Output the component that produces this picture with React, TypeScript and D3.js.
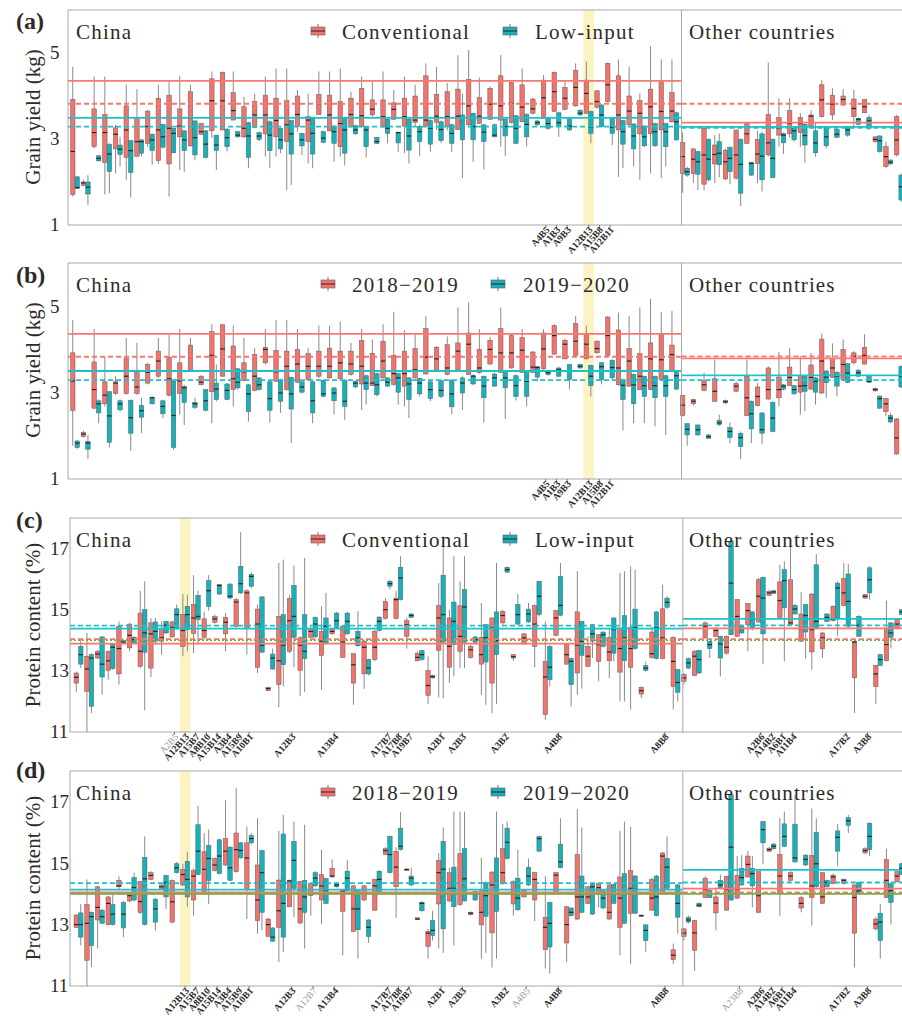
import React from "react";
import * as d3 from "d3";

// one box = [lower whisker, q1, median, q3, upper whisker]
type Box = [number, number, number, number, number];

const N_GENOTYPES = 78;
const N_CHINA = 57;
const genotypeIndex = d3.range(N_GENOTYPES);

const legendTreatment = ["Conventional", "Low-input"];
const legendSeason = ["2018\u22122019", "2019\u22122020"];
const regionNames = ["China", "Other countries"];
const yieldTicks = [1, 3, 5];
const proteinTicks = [11, 13, 15, 17];

// (a) grain yield by treatment
const aConventional: Box[] = [
  [1.66,1.71,2.71,3.92,4.68],[1.9,1.92,1.98,2.0,2.05],[2.78,2.82,3.15,3.7,4.45],[1.71,2.45,3.15,3.57,4.45],[2.2,2.77,3.11,3.26,3.33],
  [2.05,2.57,3.21,3.77,4.26],[2.59,2.6,2.94,3.47,4.16],[2.82,2.9,3.29,3.65,3.67],[2.42,2.5,3.21,3.95,4.26],[1.66,2.42,3.25,4.02,4.33],
  [2.28,3.05,3.3,3.7,4.47],[2.82,2.84,3.48,4.1,4.26],[3.09,3.11,3.17,3.36,3.38],[3.02,3.19,3.89,4.4,4.57],[3.2,3.21,3.89,4.55,4.57],
  [3.44,3.44,3.66,4.08,4.57],[3.02,3.05,3.25,3.75,3.98],[3.25,3.27,3.56,3.87,4.05],[2.59,3.12,3.56,4.02,4.45],[2.59,3.05,3.43,3.95,4.64],
  [1.81,2.94,3.33,3.89,4.64],[3.17,3.29,3.57,4.0,4.14],[2.43,2.94,3.44,3.52,4.06],[3.56,3.57,3.81,4.04,4.57],[3.17,3.19,3.56,4.02,4.57],
  [2.59,2.82,3.36,3.87,4.64],[3.25,3.29,3.57,3.95,4.1],[3.25,3.29,3.54,4.18,4.45],[3.52,3.56,3.69,3.91,4.33],[3.25,3.3,3.52,3.91,4.57],
  [3.44,3.46,3.69,3.84,4.14],[2.67,3.3,3.52,3.95,4.45],[3.29,3.38,3.44,4.0,4.26],[3.25,3.3,3.44,4.47,4.76],[3.21,3.39,3.53,4.04,4.68],
  [3.2,3.29,3.52,4.1,4.3],[3.21,3.22,3.53,4.16,4.95],[3.3,3.33,3.77,4.39,5.07],[3.35,3.36,3.53,3.96,4.43],[3.44,3.46,3.81,4.18,4.23],
  [2.82,3.44,3.77,4.47,4.95],[3.36,3.38,3.83,4.31,4.33],[3.39,3.4,3.74,4.26,4.64],[3.57,3.6,3.7,3.93,3.95],[3.47,3.48,3.96,4.37,4.49],
  [3.62,3.64,4.1,4.55,4.57],[3.67,3.69,3.95,4.2,4.33],[3.75,3.77,4.2,4.6,4.76],[3.58,3.6,4.06,4.37,4.8],[3.71,3.74,3.87,4.12,4.14],
  [3.85,3.87,4.26,4.76,4.78],[2.12,3.21,3.56,4.47,4.85],[3.3,3.33,3.65,4.0,4.68],[2.05,3.12,3.6,3.89,4.06],[2.2,3.12,3.75,4.16,5.16],
  [2.09,3.21,3.64,4.33,4.85],[3.38,3.4,3.65,4.08,4.85],
  [1.75,2.2,2.59,2.92,3.15],[1.98,2.2,2.53,2.77,2.78],[1.8,1.95,2.63,3.25,3.29],[1.98,2.42,2.64,2.86,3.09],[2.05,2.07,2.47,2.74,2.78],
  [2.05,2.09,2.63,3.21,3.22],[2.88,2.9,3.12,3.38,3.4],[1.97,2.43,2.65,2.99,3.19],[2.59,2.63,2.91,3.57,4.78],[2.82,3.09,3.25,3.5,3.95],
  [3.02,3.12,3.36,3.66,3.95],[2.82,3.15,3.36,3.5,3.6],[3.29,3.3,3.53,3.56,3.67],[3.5,3.52,3.91,4.26,4.37],[3.44,3.56,3.81,4.02,4.18],
  [3.77,3.79,3.92,4.0,4.16],[3.29,3.52,3.71,3.93,4.14],[3.6,3.61,3.75,3.92,3.92],[2.91,2.94,2.99,3.05,3.07],[2.32,2.36,2.59,2.82,2.94],
  [2.59,2.63,2.98,3.52,3.56],
];
const aLowInput: Box[] = [
  [1.84,1.85,1.87,2.12,2.14],[1.47,1.72,1.88,2.0,2.16],[2.48,2.49,2.55,2.61,2.63],[1.74,2.24,2.65,2.88,2.9],[2.36,2.64,2.76,2.86,3.05],
  [1.64,2.22,2.73,2.96,2.98],[2.59,2.67,2.94,2.98,3.0],[2.4,2.73,2.98,3.11,3.13],[2.78,2.81,3.05,3.34,3.36],[2.67,2.68,3.13,3.25,3.25],
  [2.24,2.73,2.98,3.19,3.21],[2.51,2.63,3.03,3.42,3.44],[2.55,2.57,2.88,3.19,3.21],[2.28,2.73,2.86,3.09,3.09],[2.71,2.82,3.03,3.23,3.25],
  [3.03,3.05,3.09,3.17,3.19],[2.32,2.57,3.07,3.38,3.4],[2.95,2.99,3.07,3.15,3.17],[2.32,2.73,3.09,3.4,3.43],[2.67,2.77,2.98,3.25,3.27],
  [1.93,2.65,3.12,3.43,3.44],[2.63,2.84,2.98,3.13,3.15],[2.32,2.65,3.13,3.48,3.52],[2.9,2.92,3.02,3.17,3.19],[2.47,2.9,3.17,3.3,3.33],
  [2.38,2.67,3.21,3.48,3.5],[3.1,3.12,3.21,3.31,3.33],[2.57,2.82,3.21,3.29,3.3],[2.88,2.9,2.94,3.04,3.05],[2.9,3.13,3.25,3.46,3.48],
  [2.7,2.91,3.15,3.15,3.17],[2.43,2.74,3.07,3.46,3.48],[2.61,2.94,3.17,3.29,3.33],[2.7,2.88,3.25,3.43,3.48],[2.9,2.96,3.22,3.4,3.43],
  [2.7,2.9,3.13,3.33,3.36],[2.09,2.98,3.29,3.56,4.05],[2.47,2.98,3.29,3.6,3.61],[2.29,2.94,3.16,3.33,3.35],[3.04,3.05,3.09,3.33,3.36],
  [2.6,3.07,3.29,3.46,3.48],[2.88,2.9,3.25,3.54,3.56],[2.82,3.05,3.34,3.57,3.6],[3.3,3.33,3.38,3.42,3.45],[3.22,3.25,3.36,3.48,3.52],
  [3.05,3.29,3.38,3.61,3.64],[3.19,3.21,3.3,3.5,3.52],[3.54,3.56,3.6,3.67,3.69],[2.9,3.13,3.27,3.64,3.66],[3.27,3.29,3.56,3.79,3.81],
  [2.86,3.13,3.27,3.48,3.5],[2.32,2.88,3.17,3.43,3.44],[2.36,2.77,3.07,3.35,3.36],[2.82,2.84,3.05,3.3,3.33],[2.82,2.84,3.17,3.36,3.38],
  [2.36,2.82,3.17,3.36,3.38],[2.96,2.98,3.4,3.61,3.64],
  [2.12,2.16,2.24,2.32,2.36],[1.81,2.18,2.47,2.71,2.72],[2.01,2.05,2.53,2.99,3.02],[2.11,2.4,2.67,2.94,3.13],[1.95,2.24,2.55,2.81,2.82],
  [1.44,1.74,2.41,2.99,3.02],[2.14,2.16,2.43,2.46,2.47],[1.78,2.05,2.6,3.12,3.17],[2.09,2.1,2.55,2.99,3.02],[2.65,2.91,3.09,3.13,3.15],
  [2.94,2.98,3.19,3.25,3.29],[2.45,2.86,3.08,3.34,3.36],[2.59,2.68,2.91,3.19,3.36],[2.78,2.84,3.05,3.29,3.3],[3.02,3.04,3.11,3.22,3.29],
  [3.05,3.09,3.21,3.26,3.3],[3.32,3.34,3.46,3.48,3.5],[3.21,3.25,3.42,3.5,3.56],[2.68,2.71,2.96,3.07,3.09],[2.4,2.42,2.46,2.51,2.53],
  [1.54,1.58,1.89,2.16,2.2],
];

// (b) grain yield by season
const bSeason1: Box[] = [
  [1.77,2.59,3.27,3.92,4.68],[1.96,1.98,2.04,2.08,2.12],[2.62,2.64,3.07,3.71,4.47],[2.68,2.74,2.94,3.25,3.84],[2.95,2.98,3.22,3.25,3.38],
  [2.95,2.98,3.38,3.79,4.27],[2.95,2.98,3.13,3.47,4.15],[3.19,3.22,3.47,3.65,3.69],[3.34,3.38,3.73,3.96,4.27],[2.91,2.94,3.32,3.82,4.35],
  [2.49,2.98,3.27,3.69,4.47],[3.5,3.52,3.82,4.1,4.27],[3.17,3.18,3.24,3.38,3.4],[2.29,3.02,3.86,4.41,4.58],[3.36,3.38,4.01,4.57,4.58],
  [2.68,3.07,3.32,4.08,4.55],[3.26,3.28,3.48,3.69,4.27],[3.03,3.05,3.38,3.88,4.03],[3.65,3.69,4.0,4.05,4.47],[3.25,3.26,3.48,3.98,4.68],
  [3.05,3.07,3.61,3.96,4.68],[3.22,3.24,3.66,4.0,4.47],[3.26,3.3,3.61,3.9,4.03],[3.34,3.38,3.61,3.96,4.55],[3.32,3.34,3.61,4.03,4.55],
  [3.3,3.32,3.69,3.96,4.65],[3.39,3.42,3.66,3.96,4.15],[2.6,3.2,3.61,4.21,4.47],[3.15,3.16,3.22,3.91,4.23],[3.32,3.34,3.73,4.19,4.58],
  [3.16,3.19,3.44,3.86,4.87],[2.68,3.15,3.44,3.96,4.44],[3.32,3.34,3.53,4.02,4.38],[3.42,3.43,3.82,4.48,4.77],[3.5,3.52,3.78,4.05,4.08],
  [3.4,3.42,3.57,4.11,4.3],[3.52,3.53,3.96,4.15,4.97],[3.4,3.42,4.12,4.38,5.09],[3.44,3.46,3.57,4.0,4.47],[3.65,3.66,4.0,4.21,4.29],
  [3.46,3.47,3.92,4.48,4.97],[3.55,3.57,3.92,4.32,4.35],[3.46,3.47,3.98,4.27,4.47],[3.46,3.47,3.59,3.94,3.96],[3.53,3.55,4.01,4.38,4.47],
  [3.88,3.89,4.32,4.55,4.58],[3.77,3.78,4.12,4.21,4.25],[3.84,3.86,4.19,4.6,4.77],[3.77,3.78,4.12,4.37,4.55],[3.91,3.92,4.02,4.19,4.21],
  [3.84,3.86,4.32,4.75,4.77],[3.16,3.18,3.57,4.45,4.85],[3.13,3.15,3.73,4.02,4.77],[3.05,3.07,3.38,3.9,4.97],[3.05,3.07,3.78,4.15,5.17],
  [3.28,3.3,3.76,4.34,4.87],[3.47,3.5,3.88,4.1,4.89],
  [2.45,2.47,2.71,2.93,2.95],[2.7,2.74,2.8,2.84,2.86],[3.03,3.05,3.18,3.28,3.46],[2.78,2.8,3.03,3.32,3.77],[2.74,2.76,2.79,2.82,2.84],
  [3.01,3.03,3.15,3.21,3.26],[2.45,2.47,2.88,3.38,3.77],[2.68,2.7,2.91,3.13,3.22],[2.84,2.85,3.07,3.57,3.61],[2.68,2.88,3.07,3.36,3.94],
  [3.15,3.16,3.35,3.59,4.04],[2.49,3.01,3.15,3.39,3.84],[3.07,3.08,3.35,3.64,3.92],[2.97,2.99,3.73,4.24,4.37],[3.34,3.35,3.57,3.79,4.14],
  [3.28,3.3,3.65,4.0,4.23],[3.65,3.69,3.84,3.92,3.96],[3.65,3.66,3.86,4.05,4.35],[3.02,3.04,3.07,3.1,3.12],[2.45,2.56,2.74,2.86,2.88],
  [1.56,1.58,1.95,2.39,2.41],
];
const bSeason2: Box[] = [
  [1.7,1.73,1.83,1.88,1.9],[1.46,1.69,1.83,1.87,2.02],[2.29,2.53,2.74,2.81,2.84],[1.73,1.85,2.46,3.02,3.03],[2.56,2.6,2.74,2.81,2.84],
  [1.65,2.06,2.42,2.82,2.84],[2.06,2.43,2.58,2.7,2.88],[2.72,2.74,2.88,2.89,2.91],[2.41,2.51,2.68,2.81,2.84],[1.67,1.73,2.47,3.28,3.3],
  [2.25,2.77,3.11,3.14,3.18],[2.62,2.66,2.74,2.77,2.88],[2.57,2.59,2.81,3.07,3.08],[2.8,2.84,3.08,3.22,3.65],[2.82,2.84,3.05,3.2,3.22],
  [3.07,3.11,3.24,3.55,3.57],[2.33,2.56,2.97,3.18,3.2],[3.05,3.07,3.18,3.34,3.36],[2.31,2.59,2.86,3.25,3.26],[2.53,2.8,2.99,3.3,3.32],
  [1.83,2.62,2.97,3.35,3.37],[2.98,3.01,3.13,3.25,3.26],[2.29,2.53,2.81,3.25,3.26],[2.9,2.91,2.97,3.28,3.3],[2.49,2.81,2.99,3.11,3.12],
  [2.37,2.68,2.8,3.29,3.3],[3.11,3.13,3.22,3.26,3.28],[2.72,3.07,3.22,3.39,3.42],[2.91,2.95,3.18,3.44,3.46],[3.13,3.15,3.24,3.34,3.36],
  [2.72,3.01,3.34,3.44,3.46],[2.41,2.84,3.2,3.34,3.36],[2.91,2.97,3.22,3.33,3.35],[2.8,2.86,3.07,3.25,3.26],[2.87,2.91,3.05,3.28,3.3],
  [2.5,2.67,2.97,3.29,3.3],[2.6,2.99,3.22,3.34,3.38],[3.17,3.2,3.38,3.39,3.42],[2.31,2.88,3.15,3.38,3.39],[3.13,3.15,3.34,3.43,3.46],
  [2.39,3.11,3.34,3.5,3.52],[2.82,2.91,3.16,3.39,3.42],[2.68,2.91,3.26,3.5,3.52],[3.26,3.36,3.58,3.6,3.61],[3.39,3.42,3.46,3.5,3.52],
  [3.36,3.38,3.53,3.57,3.6],[3.07,3.3,3.5,3.65,3.67],[3.55,3.57,3.61,3.65,3.67],[2.91,3.16,3.38,3.63,3.65],[3.19,3.3,3.6,3.69,3.71],
  [3.3,3.34,3.58,3.75,3.77],[2.12,2.84,3.17,3.3,3.32],[2.29,2.74,3.18,3.42,3.44],[2.29,2.91,3.16,3.38,3.39],[2.22,2.88,3.16,3.38,3.39],
  [2.02,2.91,3.16,3.39,3.42],[3.07,3.08,3.39,3.47,3.5],
  [1.77,2.02,2.15,2.28,2.29],[2.0,2.02,2.14,2.25,2.27],[1.93,1.94,1.98,2.02,2.04],[2.22,2.26,2.3,2.36,2.49],[1.83,1.96,2.1,2.19,2.31],
  [1.46,1.75,1.96,2.06,2.1],[1.83,2.16,2.51,2.8,2.82],[1.81,2.06,2.14,2.53,2.54],[2.08,2.1,2.41,2.77,2.8],[3.05,3.08,3.15,3.18,3.2],
  [2.95,2.97,3.07,3.16,3.18],[2.57,3.03,3.16,3.38,3.39],[2.72,3.01,3.26,3.34,3.36],[2.88,3.23,3.36,3.5,3.52],[2.91,3.15,3.38,3.47,3.5],
  [3.22,3.24,3.45,3.67,3.69],[3.36,3.38,3.46,3.52,3.54],[3.22,3.24,3.26,3.39,3.42],[2.62,2.64,2.86,2.92,2.94],[2.29,2.32,2.41,2.47,2.53],
  [3.1,3.13,3.38,3.61,3.63],
];

// (c) protein content by treatment
const cConventional: Box[] = [
  [12.31,12.6,12.79,12.93,12.98],[11.0,12.33,13.06,13.48,14.24],[13.39,13.42,13.55,13.64,13.69],[12.71,13.02,13.33,13.64,13.67],[12.55,12.9,13.73,14.46,14.62],
  [13.64,13.75,14.16,14.53,14.57],[13.09,13.15,13.64,14.89,15.62],[12.8,13.09,14.21,14.57,14.73],[13.53,13.97,14.08,14.38,14.62],[14.08,14.11,14.42,14.6,14.64],
  [13.48,13.8,14.32,14.84,15.51],[13.58,14.22,14.73,15.17,16.13],[14.02,14.1,14.32,14.7,14.93],[14.54,14.59,14.7,14.78,14.84],[13.64,14.21,14.59,14.75,14.89],
  [14.42,14.46,15.25,15.33,15.38],[13.53,14.38,15.55,15.62,15.66],[12.93,13.12,14.53,15.02,15.17],[12.33,12.35,12.42,12.46,12.48],[11.81,12.55,13.33,14.78,16.53],
  [13.58,13.64,14.64,15.36,15.47],[12.17,13.02,13.84,14.08,14.13],[14.08,14.1,14.29,14.38,14.46],[12.38,13.51,13.97,14.29,15.11],[14.18,14.21,14.29,14.38,14.42],
  [13.42,13.44,13.94,14.46,14.49],[11.89,12.6,13.2,13.56,13.58],[12.41,12.9,13.77,13.97,14.02],[13.31,13.37,13.77,14.29,14.35],[14.68,14.71,15.0,15.27,15.38],
  [14.68,14.71,15.33,15.38,15.62],[13.73,14.13,14.51,14.64,14.73],[13.31,13.33,13.44,13.58,13.64],[11.92,12.2,12.52,13.01,13.48],[12.13,13.67,14.73,15.13,15.87],
  [12.6,13.12,13.8,14.73,15.0],[13.09,13.64,14.13,15.13,15.93],[13.4,13.44,13.69,13.8,13.86],[12.22,13.22,13.53,14.1,15.22],[11.62,12.6,14.4,14.73,14.75],
  [14.51,14.57,14.81,14.95,15.0],[13.33,13.42,13.46,13.53,13.55],[13.86,13.88,14.08,14.21,14.24],[13.12,13.8,14.53,15.13,15.17],[11.4,11.57,12.8,13.31,14.62],
  [14.13,14.16,14.73,14.97,15.0],[13.2,13.22,13.53,13.86,13.88],[12.22,12.93,13.84,14.93,16.26],[13.12,13.15,13.48,13.8,14.13],[12.66,13.31,13.86,14.18,14.21],
  [12.77,13.33,13.62,14.1,14.4],[12.0,12.96,13.73,14.4,16.2],[11.73,13.12,13.73,14.42,16.42],[12.11,12.24,12.35,12.46,12.49],[13.4,13.44,13.56,14.27,14.46],
  [13.37,13.4,14.08,15.03,15.82],[11.73,12.49,13.31,14.1,14.13],
  [12.55,12.66,12.77,12.88,12.93],[12.82,12.85,13.48,13.64,13.69],[14.05,14.08,14.46,14.57,14.62],[14.1,14.13,14.32,14.4,14.42],[13.53,13.58,13.77,14.13,14.16],
  [14.1,14.13,14.78,15.33,15.35],[13.64,14.51,14.97,15.2,15.22],[14.57,14.6,15.44,15.98,16.04],[15.44,15.47,15.55,15.6,15.66],[14.73,14.75,15.3,15.91,16.47],
  [14.49,14.51,14.57,15.98,17.35],[13.94,13.97,14.38,14.86,15.58],[13.04,13.62,14.35,15.51,15.55],[13.42,13.72,14.08,14.24,14.27],[14.62,14.64,14.68,15.11,15.14],
  [15.11,15.14,15.55,16.02,16.53],[11.62,12.77,13.94,13.97,14.02],[15.35,15.38,15.44,15.49,15.51],[11.92,12.49,12.9,13.18,13.2],[13.31,13.33,13.86,14.4,15.3],
  [14.35,14.38,14.53,14.68,14.71],
];
const cLowInput: Box[] = [
  [13.09,13.22,13.53,13.8,14.02],[11.62,11.84,13.42,13.53,13.58],[12.22,12.8,13.22,14.11,14.13],[13.04,13.07,13.77,13.86,13.88],[13.9,13.92,13.94,14.0,14.02],
  [13.88,13.91,14.02,14.1,14.13],[11.71,13.61,14.24,15.0,15.93],[13.86,13.97,14.29,14.6,14.73],[14.21,14.24,14.49,14.62,14.64],[14.37,14.4,14.84,15.03,15.17],
  [13.64,14.35,14.84,15.11,15.49],[13.86,14.68,14.78,15.47,15.62],[14.97,15.11,15.62,15.95,16.13],[15.49,15.51,15.79,15.82,15.84],[15.35,15.38,15.44,15.84,15.87],
  [15.51,15.55,15.85,16.42,17.54],[15.71,15.77,16.09,16.15,16.22],[13.58,13.61,13.84,15.42,15.44],[13.04,13.06,13.42,13.55,13.73],[12.49,13.2,13.84,14.84,16.64],
  [13.12,14.1,14.78,15.79,16.45],[12.31,13.4,13.64,14.84,16.69],[14.08,14.11,14.53,14.75,14.78],[13.88,13.91,14.46,14.73,15.55],[14.4,14.42,14.64,14.89,14.93],
  [14.18,14.21,14.62,14.89,14.93],[13.8,13.82,14.08,14.29,14.95],[12.85,12.9,13.09,13.37,13.4],[14.29,14.32,14.62,14.76,14.78],[15.66,15.77,15.85,15.93,15.98],
  [15.3,15.33,16.04,16.39,16.75],[14.73,14.75,14.81,14.86,14.89],[13.33,13.37,13.53,13.66,13.69],[12.75,12.77,12.81,12.85,12.87],[12.11,13.94,14.84,16.13,17.4],
  [12.82,13.86,14.62,15.25,16.75],[13.09,13.94,15.09,15.66,16.75],[13.91,13.94,14.02,14.11,14.13],[11.89,13.29,14.08,14.51,14.53],[11.92,13.53,13.99,14.93,16.53],
  [16.2,16.23,16.31,16.39,16.42],[14.51,14.53,14.84,15.17,15.51],[14.57,14.6,14.86,15.02,15.22],[14.78,14.84,15.44,15.93,15.95],[12.49,12.71,13.12,13.8,13.84],
  [14.78,14.82,15.14,16.09,16.53],[11.84,12.55,13.31,13.4,13.44],[12.42,13.51,13.97,14.62,14.64],[13.42,13.97,14.21,14.51,14.53],[13.77,13.8,14.18,14.27,14.29],
  [13.31,13.58,14.35,14.73,14.75],[12.0,13.33,14.08,14.81,16.26],[13.69,13.73,14.42,15.02,16.31],[12.98,13.02,13.09,13.17,13.31],[13.37,13.4,14.42,14.93,14.95],
  [15.03,15.08,15.24,15.38,15.44],[12.0,12.3,12.62,13.04,13.07],
  [13.06,13.09,13.26,13.4,13.44],[12.9,12.93,13.37,13.67,13.69],[13.42,13.73,13.86,13.97,13.99],[12.82,13.42,13.88,14.13,14.15],[14.16,14.18,15.87,17.24,17.35],
  [14.21,14.24,14.38,14.46,14.49],[14.32,14.38,14.68,14.93,14.95],[13.22,14.21,15.38,16.06,16.09],[15.51,15.54,15.58,15.62,15.64],[13.31,15.06,15.95,16.31,16.58],
  [14.84,14.86,15.02,15.14,15.19],[13.4,14.27,14.81,15.17,15.19],[14.35,14.38,14.62,16.47,16.82],[14.6,14.62,14.75,14.86,14.89],[14.13,14.73,15.71,15.87,15.93],
  [14.42,14.46,15.27,16.17,16.5],[14.1,14.13,14.49,14.78,14.82],[15.33,15.55,15.98,16.37,16.42],[13.15,13.18,13.37,13.53,13.55],[13.73,14.1,14.24,14.57,14.6],
  [14.82,14.84,14.93,15.0,15.02],
];

// (d) protein content by season
const dSeason1: Box[] = [
  [12.89,12.91,13.0,13.31,13.34],[11.0,11.84,13.04,13.65,14.47],[12.22,13.15,13.56,14.23,14.26],[12.97,13.0,13.69,13.9,13.94],[14.1,14.23,14.26,14.44,14.57],
  [13.72,13.77,13.94,14.01,14.04],[13.34,13.4,13.75,14.4,14.42],[14.44,14.47,14.6,14.69,14.74],[14.12,14.15,14.23,14.29,14.31],[13.04,13.08,13.74,14.44,14.47],
  [14.26,14.29,14.63,14.8,14.98],[13.29,13.8,14.58,14.76,14.83],[14.01,14.04,14.8,15.37,15.98],[14.72,14.76,14.94,15.15,15.19],[14.9,14.94,15.39,15.8,17.05],
  [14.69,14.72,15.44,15.98,17.45],[13.18,14.18,15.17,15.66,16.19],[12.7,13.13,13.8,14.94,16.46],[12.59,12.62,13.0,13.18,13.22],[11.78,12.91,13.45,14.45,16.05],
  [13.56,13.58,14.42,14.44,14.47],[13.02,13.05,13.51,14.4,14.42],[13.29,13.94,14.01,14.33,14.37],[13.02,13.8,14.26,14.63,15.44],[14.53,14.55,14.58,14.83,15.12],
  [12.0,13.43,14.08,14.13,14.15],[12.75,12.78,13.51,14.26,14.29],[13.77,13.8,14.04,14.26,14.29],[13.45,13.47,14.26,14.47,14.5],[15.26,15.28,15.41,15.47,15.52],
  [13.22,14.23,14.87,15.39,15.52],[14.75,14.77,14.79,14.81,14.83],[13.15,13.16,13.18,13.22,13.23],[11.89,12.29,12.72,12.78,12.86],[12.22,13.67,14.69,15.09,15.33],
  [13.72,13.77,14.18,14.69,14.85],[13.61,13.65,14.04,15.31,16.68],[13.29,13.32,13.37,13.4,13.43],[11.89,12.99,13.4,14.1,15.17],[11.6,12.73,14.29,14.71,14.74],
  [14.29,14.33,14.69,15.47,16.27],[13.29,13.67,13.99,14.4,14.44],[13.88,13.9,14.04,14.12,14.15],[13.11,13.8,14.47,14.69,14.72],[11.57,12.18,12.91,13.24,14.58],
  [14.01,14.04,14.61,14.69,14.72],[11.78,12.4,13.0,13.58,13.61],[13.15,13.18,13.9,15.28,16.76],[13.67,13.69,13.9,14.23,14.26],[13.56,13.99,14.2,14.33,14.37],
  [13.15,13.18,13.4,14.29,14.31],[12.0,12.91,13.86,14.55,16.05],[11.71,13.37,14.18,14.76,16.19],[13.26,13.27,13.29,13.31,13.32],[13.45,13.47,13.86,14.47,14.53],
  [14.01,14.04,15.23,15.33,15.37],[11.71,11.86,12.0,12.18,12.38],
  [12.48,12.61,12.72,12.86,12.89],[11.49,12.16,12.73,13.13,13.15],[13.86,13.88,14.15,14.51,14.58],[12.81,13.38,13.7,13.9,14.2],[13.45,13.47,14.15,14.57,14.59],
  [13.83,13.86,14.15,14.6,15.23],[14.53,14.55,14.96,15.23,15.39],[13.37,13.4,13.94,14.72,14.74],[15.37,15.39,15.44,15.49,15.52],[13.29,14.01,14.58,15.28,16.46],
  [14.42,14.44,14.58,14.69,14.74],[13.4,13.54,13.69,13.88,13.94],[12.97,13.88,14.26,15.25,16.78],[13.67,13.69,13.9,14.69,14.72],[14.31,14.33,14.55,14.61,14.66],
  [14.31,14.33,14.44,14.47,14.5],[11.6,12.72,13.88,14.29,14.31],[15.3,15.33,15.41,15.47,15.52],[12.81,12.86,13.02,13.18,13.24],[13.86,13.88,14.44,15.12,15.47],
  [14.37,14.4,14.58,14.72,14.74],
];
const dSeason2: Box[] = [
  [12.32,12.59,13.0,13.38,13.67],[11.62,12.32,13.26,13.4,13.43],[13.02,13.04,13.26,13.47,13.51],[12.97,13.0,13.34,13.65,14.04],[12.59,12.89,13.34,13.72,13.77],
  [13.75,13.8,14.2,14.53,14.69],[12.97,13.0,14.49,15.19,15.87],[12.81,13.08,13.51,13.83,13.86],[13.51,13.9,14.37,14.6,14.63],[14.66,14.69,14.85,14.98,15.04],
  [13.58,13.9,14.47,15.06,15.37],[14.61,14.63,15.39,16.25,16.87],[13.67,14.44,15.15,15.57,16.09],[14.63,14.66,15.23,15.76,15.8],[14.42,14.44,14.85,15.52,15.55],
  [15.15,15.17,15.41,15.66,15.69],[15.6,15.66,15.8,15.9,15.98],[12.81,13.4,14.69,15.41,15.44],[12.43,12.46,12.59,12.89,12.91],[12.11,12.59,13.69,15.95,16.57],
  [13.24,14.18,15.09,15.71,16.35],[12.22,13.4,13.9,14.44,16.25],[14.23,14.26,14.51,14.69,14.74],[13.67,13.69,14.1,14.5,14.53],[14.2,14.23,14.29,14.33,14.37],
  [14.08,14.1,14.51,14.74,15.09],[11.89,12.83,13.51,14.1,14.12],[12.4,12.61,12.91,13.15,13.18],[14.01,14.04,14.47,14.74,14.76],[14.66,14.69,15.28,15.87,15.9],
  [15.41,15.44,15.55,16.14,16.66],[14.26,14.29,14.51,14.58,14.85],[13.4,13.45,13.69,13.72,13.77],[12.48,12.65,12.81,13.13,13.45],[12.08,12.86,14.8,15.71,16.16],
  [12.32,13.58,14.18,14.87,16.68],[13.75,13.77,14.49,15.47,16.68],[13.77,13.8,13.99,14.08,14.1],[12.08,13.27,13.94,14.37,14.4],[11.89,13.43,14.04,15.17,16.68],
  [15.12,15.15,15.68,16.14,16.35],[13.45,13.48,13.86,14.51,15.44],[14.26,14.29,14.58,14.87,15.15],[15.37,15.39,15.8,15.87,15.9],[11.41,12.27,13.04,13.72,13.75],
  [14.83,14.85,15.04,15.62,16.46],[13.26,13.29,13.4,13.54,13.56],[13.37,13.4,13.9,14.58,16.16],[13.32,13.34,14.23,14.33,14.37],[13.51,13.54,13.86,14.1,14.12],
  [13.67,13.69,14.04,14.31,14.33],[13.02,13.04,14.04,14.66,16.35],[13.34,13.37,14.15,14.58,14.61],[12.11,12.48,12.81,12.99,13.02],[13.26,13.29,13.9,14.58,14.61],
  [14.15,14.18,14.87,15.15,15.87],[12.7,13.24,13.69,14.29,14.31],
  [13.04,13.08,13.15,13.24,13.29],[13.56,13.58,13.63,13.69,13.72],[13.86,13.88,14.04,14.12,14.15],[14.18,14.2,14.29,14.44,14.63],[13.77,13.8,15.52,17.22,17.27],
  [14.26,14.29,14.53,14.83,15.26],[13.56,14.26,14.66,14.83,15.23],[14.98,15.66,16.09,16.35,16.38],[15.44,15.47,15.55,15.62,15.66],[15.52,15.55,15.87,16.28,16.68],
  [15.01,15.04,15.17,16.27,17.22],[14.9,14.94,15.12,15.26,15.3],[14.2,14.23,14.98,16.0,16.46],[14.2,14.23,14.37,14.44,14.47],[14.9,15.39,15.84,16.05,16.27],
  [15.98,16.23,16.38,16.48,16.57],[13.99,14.01,14.1,14.37,14.4],[15.23,15.44,15.87,16.3,16.33],[11.89,12.48,13.08,13.37,13.67],[13.0,13.72,14.1,14.33,14.37],
  [14.61,14.63,14.83,14.98,15.01],
];

// mean lines: [red solid, red dashed, teal solid, teal dashed]
const aMeanChina = [4.35, 3.82, 3.49, 3.29];
const aMeanOther = [3.38, 3.82, 3.28, 3.26];
const bMeanChina = [4.36, 3.83, 3.5, 3.29];
const bMeanOther = [3.79, 3.84, 3.4, 3.29];
const cMeanChina = [13.89, 14.04, 14.38, 14.48];
const cMeanOther = [14.39, 14.04, 14.7, 14.49];
const dMeanChina = [14.05, 14.01, 14.14, 14.35];
const dMeanOther = [14.17, 14.05, 14.78, 14.37];
const proteinReference = 14.0;

// labelled genotypes: [index, name, faded]
const abLabels: [number, string, boolean][] = [
  [44, "A4B5", false], [45, "A1B3", false], [46, "A9B3", false],
  [48, "A12B13", false], [49, "A15B8", false], [50, "A12B11", false],
];
const cLabels: [number, string, boolean][] = [
  [9, "A2B5", true], [10, "A12B13", false], [11, "A15B7", false], [12, "A8B10", false], [13, "A15B14", false],
  [14, "A3B4", false], [15, "A15B9", false], [16, "A10B1", false], [20, "A12B3", false], [24, "A13B4", false],
  [29, "A17B7", false], [30, "A17B8", false], [31, "A19B7", false], [34, "A2B1", false], [36, "A2B3", false],
  [40, "A3B2", false], [45, "A4B8", false], [55, "A8B8", false], [64, "A2B6", false], [65, "A14B2", false],
  [66, "A6B1", false], [67, "A11B4", false], [72, "A17B2", false], [74, "A3B8", false],
];
const dLabels: [number, string, boolean][] = [
  [10, "A12B13", false], [11, "A15B7", false], [12, "A8B10", false], [13, "A15B14", false], [14, "A3B4", false],
  [15, "A15B9", false], [16, "A10B1", false], [20, "A12B3", false], [22, "A12B7", true], [24, "A13B4", false],
  [29, "A17B7", false], [30, "A17B8", false], [31, "A19B7", false], [34, "A2B1", false], [36, "A2B3", false],
  [40, "A3B2", false], [42, "A4B5", true], [45, "A4B8", false], [55, "A8B8", false], [62, "A23B8", true],
  [64, "A2B6", false], [65, "A14B2", false], [66, "A6B1", false], [67, "A11B4", false], [72, "A17B2", false],
  [74, "A3B8", false],
];
const abHighlight = 48;
const cdHighlight = 10;

const W = 902;
const H = 1019;
const FONT = "'Liberation Serif', 'Times New Roman', serif";
const TEXT = "#2e2a28";
const RED_FILL = "#F2736C";
const TEAL_FILL = "#16B1B9";
const RED_LINE = "#F8776F";
const TEAL_LINE = "#1CC2CA";
const GREEN = "#72B043";
const FRAME = "#A8A8A8";

interface PanelProps {
  letter: string;
  top: number;
  bottom: number;
  left: number;
  x0: number;
  step: number;
  domain: [number, number];
  ticks: number[];
  yTitle: string;
  legend: string[];
  legendX: [number, number, number, number];
  red: Box[];
  teal: Box[];
  meanChina: number[];
  meanOther: number[];
  labels: [number, string, boolean][];
  highlight: number;
  reference?: "dotted" | "solid";
  letterDy: number;
}

function Panel(p: PanelProps) {
  const x = d3.scaleBand<number>()
    .domain(genotypeIndex)
    .range([p.x0, p.x0 + p.step * N_GENOTYPES])
    .paddingInner(0.16)
    .paddingOuter(0.08);
  const sub = d3.scaleBand<string>().domain(["r", "t"]).range([0, x.bandwidth()]);
  const y = d3.scaleLinear().domain(p.domain).range([p.bottom, p.top]);
  const cx = (i: number) => (x(i) as number) + x.bandwidth() / 2;
  const divX = (cx(N_CHINA - 1) + cx(N_CHINA)) / 2 + 2;

  const series: [string, Box[], string][] = [["r", p.red, RED_FILL], ["t", p.teal, TEAL_FILL]];
  const styles = [
    { color: RED_LINE, dash: undefined },
    { color: RED_LINE, dash: "5 3" },
    { color: TEAL_LINE, dash: undefined },
    { color: TEAL_LINE, dash: "5 3" },
  ];

  return (
    <g>
      <rect x={cx(p.highlight) - p.step / 2} y={p.top} width={p.step} height={p.bottom - p.top} fill="#FCF3C2" />

      {series.map(([key, boxes, fill]) =>
        boxes.map((b, i) => {
          const bx = (x(i) as number) + (sub(key) as number);
          const bw = sub.bandwidth();
          const mx = bx + bw / 2;
          const yq3 = y(b[3]);
          const h = Math.max(1.2, y(b[1]) - yq3);
          return (
            <g key={key + i}>
              <line x1={mx} x2={mx} y1={y(b[4])} y2={y(b[0])} stroke="#8a8a8a" strokeWidth={1} />
              <rect x={bx} y={yq3} width={bw} height={h} fill={fill} stroke="#5f5f5f" strokeWidth={0.5} />
              <line x1={bx} x2={bx + bw} y1={y(b[2])} y2={y(b[2])} stroke="#262626" strokeWidth={1.2} />
            </g>
          );
        })
      )}

      {p.meanChina.map((v, k) => (
        <line key={"mc" + k} x1={p.left} x2={divX} y1={y(v)} y2={y(v)}
          stroke={styles[k].color} strokeWidth={1.8} strokeDasharray={styles[k].dash} />
      ))}
      {p.meanOther.map((v, k) => (
        <line key={"mo" + k} x1={divX} x2={W} y1={y(v)} y2={y(v)}
          stroke={styles[k].color} strokeWidth={1.8} strokeDasharray={styles[k].dash} />
      ))}
      {p.reference && (
        <line x1={p.left} x2={W} y1={y(proteinReference)} y2={y(proteinReference)}
          stroke={GREEN} strokeWidth={p.reference === "solid" ? 1.8 : 1.4}
          strokeDasharray={p.reference === "solid" ? undefined : "2 2"} />
      )}

      <line x1={p.left} x2={W} y1={p.top} y2={p.top} stroke={FRAME} />
      <line x1={p.left} x2={p.left} y1={p.top} y2={p.bottom} stroke={FRAME} />
      <line x1={p.left} x2={W} y1={p.bottom} y2={p.bottom} stroke={FRAME} />
      <line x1={divX} x2={divX} y1={p.top} y2={p.bottom} stroke={FRAME} />

      {p.ticks.map((t) => (
        <text key={t} x={50} y={y(t)} dy="0.34em" fontSize={19} fontFamily={FONT} fill={TEXT}>{t}</text>
      ))}
      <text transform={`translate(40,${p.top + 107}) rotate(-90)`} textAnchor="middle"
        fontSize={21} fontFamily={FONT} fill={TEXT}>{p.yTitle}</text>
      <text x={16} y={p.top + p.letterDy} fontSize={24} fontWeight="bold" fontFamily={FONT} fill={TEXT}>{p.letter}</text>

      <text x={76} y={p.top + 29} fontSize={21} letterSpacing={1.2} fontFamily={FONT} fill={TEXT}>{regionNames[0]}</text>
      <text x={689} y={p.top + 29} fontSize={21} letterSpacing={1.1} fontFamily={FONT} fill={TEXT}>{regionNames[1]}</text>

      {[0, 1].map((k) => {
        const ix = p.legendX[k * 2];
        return (
          <g key={"lg" + k}>
            <line x1={ix + 7} x2={ix + 7} y1={p.top + 14} y2={p.top + 28} stroke="#7a7a7a" />
            <rect x={ix} y={p.top + 17} width={14} height={8} fill={k === 0 ? RED_FILL : TEAL_FILL} stroke="#5f5f5f" strokeWidth={0.6} />
            <line x1={ix} x2={ix + 14} y1={p.top + 21} y2={p.top + 21} stroke="#262626" strokeWidth={1} />
            <text x={p.legendX[k * 2 + 1]} y={p.top + 29} fontSize={21} letterSpacing={1.25} fontFamily={FONT} fill={TEXT}>{p.legend[k]}</text>
          </g>
        );
      })}

      {p.labels.map(([i, name, faded]) => {
        const lx = cx(i);
        return (
          <g key={"xl" + i}>
            <line x1={lx} x2={lx} y1={p.bottom} y2={p.bottom + 3} stroke="#777" />
            <text transform={`translate(${lx + 2},${p.bottom + 3}) rotate(-48)`} textAnchor="end" dy="0.35em"
              fontSize={9.5} fontWeight={faded ? "normal" : "bold"} fontFamily={FONT}
              fill={faded ? "#9a9a9a" : "#2a2a2a"}>{name}</text>
          </g>
        );
      })}
    </g>
  );
}

export default function App() {
  return (
    <div style={{ position: "absolute", left: 0, top: 0 }}>
      <svg width={W} height={H} style={{ display: "block", background: "#fff" }}>
        <Panel letter="(a)" top={10} bottom={225} left={68} x0={69.65} step={10.7} domain={[1, 6]} ticks={yieldTicks}
          yTitle="Grain yield (kg)" legend={legendTreatment} legendX={[311, 342, 503, 535]}
          red={aConventional} teal={aLowInput} meanChina={aMeanChina} meanOther={aMeanOther}
          labels={abLabels} highlight={abHighlight} letterDy={19} />
        <Panel letter="(b)" top={263} bottom={479} left={68} x0={69.65} step={10.7} domain={[1, 6]} ticks={yieldTicks}
          yTitle="Grain yield (kg)" legend={legendSeason} legendX={[321, 352, 491, 523]}
          red={bSeason1} teal={bSeason2} meanChina={bMeanChina} meanOther={bMeanOther}
          labels={abLabels} highlight={abHighlight} letterDy={20} />
        <Panel letter="(c)" top={518} bottom={732} left={70} x0={73.2} step={10.66} domain={[11, 18]} ticks={proteinTicks}
          yTitle="Protein content (%)" legend={legendTreatment} legendX={[311, 342, 503, 535]}
          red={cConventional} teal={cLowInput} meanChina={cMeanChina} meanOther={cMeanOther}
          labels={cLabels} highlight={cdHighlight} reference="dotted" letterDy={10} />
        <Panel letter="(d)" top={771} bottom={986} left={70} x0={73.2} step={10.66} domain={[11, 18]} ticks={proteinTicks}
          yTitle="Protein content (%)" legend={legendSeason} legendX={[321, 352, 491, 523]}
          red={dSeason1} teal={dSeason2} meanChina={dMeanChina} meanOther={dMeanOther}
          labels={dLabels} highlight={cdHighlight} reference="solid" letterDy={7} />
      </svg>
    </div>
  );
}
